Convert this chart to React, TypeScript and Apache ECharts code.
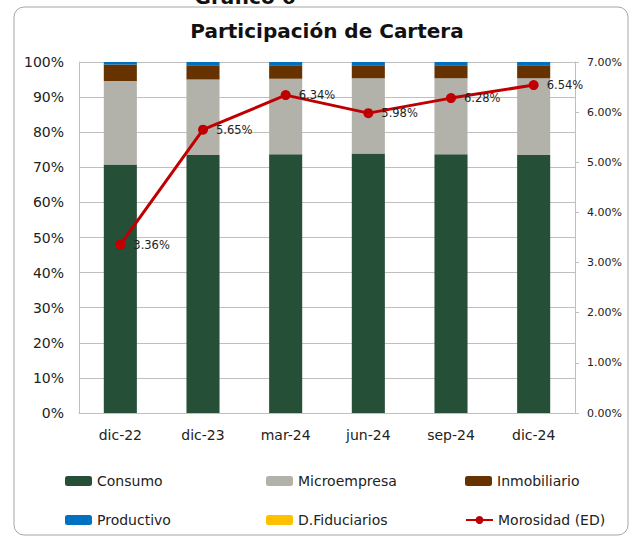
import React, { useEffect, useRef } from "react";
import * as echarts from "echarts";

const categories = ["dic-22", "dic-23", "mar-24", "jun-24", "sep-24", "dic-24"];
const consumo = [70.8, 73.5, 73.7, 73.9, 73.7, 73.5];
const microempresa = [23.8, 21.5, 21.5, 21.5, 21.7, 21.9];
const inmobiliario = [4.7, 4.1, 3.9, 3.7, 3.7, 3.7];
const productivo = [0.7, 0.9, 0.9, 0.9, 0.9, 0.9];
const fiduciarios = [0, 0, 0, 0, 0, 0];
const morosidad = [3.36, 5.65, 6.34, 5.98, 6.28, 6.54];
const leftTicks = { min: 0, max: 100, interval: 10 };
const rightTicks = { min: 0, max: 7, interval: 1 };

const FONT = "DejaVu Sans";
const GRID_COLOR = "#BFBFBF";

export default function App() {
  const ref = useRef<HTMLDivElement>(null);
  useEffect(() => {
    if (!ref.current) return;
    const chart = echarts.init(ref.current, null, { renderer: "svg" });
    const barSeries = (name: string, data: number[], color: string) => ({
      name,
      type: "bar",
      stack: "total",
      data,
      barWidth: "40%",
      itemStyle: { color },
      yAxisIndex: 0,
    });
    const legendItem = (name: string, left: number, top: number) => ({
      data: [name],
      left,
      top,
      padding: 0,
      itemWidth: 27,
      itemHeight: 10,
      textStyle: { fontFamily: FONT, fontSize: 14, color: "#222" },
    });
    chart.setOption({
      animation: false,
      backgroundColor: "#fff",
      title: {
        text: "Participación de Cartera",
        left: 322,
        textAlign: "center",
        top: 16,
        textStyle: { fontFamily: FONT, fontSize: 20, fontWeight: "bold", color: "#111" },
      },
      graphic: [
        {
          type: "rect",
          shape: { x: 14, y: 7, width: 614, height: 528, r: 10 },
          style: { fill: "none", stroke: "#A6A6A6", lineWidth: 1 },
          z: -1,
        },
        {
          type: "text",
          x: 245,
          y: 7,
          style: {
            text: "Gráfico 6",
            fontFamily: FONT,
            fontSize: 20,
            fontWeight: "bold",
            fill: "#111",
            align: "center",
            verticalAlign: "bottom",
          },
        },
      ],
      legend: [
        legendItem("Consumo", 65, 474),
        legendItem("Microempresa", 266, 474),
        legendItem("Inmobiliario", 465, 474),
        legendItem("Productivo", 65, 513),
        legendItem("D.Fiduciarios", 266, 513),
        legendItem("Morosidad (ED)", 465, 513),
      ],
      grid: { left: 79, right: 61, top: 62, bottom: 124, containLabel: false },
      xAxis: {
        type: "category",
        data: categories,
        axisLine: { show: true, lineStyle: { color: GRID_COLOR } },
        axisTick: { show: false },
        axisLabel: { fontFamily: FONT, fontSize: 14, color: "#222", margin: 15 },
      },
      yAxis: [
        {
          type: "value",
          ...leftTicks,
          axisLine: { show: true, lineStyle: { color: GRID_COLOR } },
          axisTick: { show: false },
          splitLine: { show: true, lineStyle: { color: GRID_COLOR } },
          axisLabel: {
            fontFamily: FONT,
            fontSize: 14,
            color: "#222",
            margin: 15,
            formatter: "{value}%",
          },
        },
        {
          type: "value",
          position: "right",
          ...rightTicks,
          axisLine: { show: true, lineStyle: { color: GRID_COLOR } },
          axisTick: { show: true, length: 4, lineStyle: { color: GRID_COLOR } },
          splitLine: { show: false },
          axisLabel: {
            fontFamily: FONT,
            fontSize: 11,
            color: "#222",
            margin: 12,
            formatter: (v: number) => v.toFixed(2) + "%",
          },
        },
      ],
      series: [
        barSeries("Consumo", consumo, "#264F37"),
        barSeries("Microempresa", microempresa, "#B2B2AA"),
        barSeries("Inmobiliario", inmobiliario, "#663300"),
        barSeries("Productivo", productivo, "#0070C0"),
        barSeries("D.Fiduciarios", fiduciarios, "#FFC000"),
        {
          name: "Morosidad (ED)",
          type: "line",
          yAxisIndex: 1,
          data: morosidad,
          symbol: "circle",
          symbolSize: 10,
          itemStyle: { color: "#C00000" },
          lineStyle: { color: "#C00000", width: 3 },
          label: {
            show: true,
            position: "right",
            distance: 8,
            fontFamily: FONT,
            fontSize: 11.5,
            color: "#222",
            formatter: (p: any) => p.value.toFixed(2) + "%",
          },
          z: 5,
        },
      ],
    });
    return () => chart.dispose();
  }, []);
  return (
    <div
      ref={ref}
      style={{ position: "fixed", left: 0, top: 0, width: 636, height: 537 }}
    />
  );
}
